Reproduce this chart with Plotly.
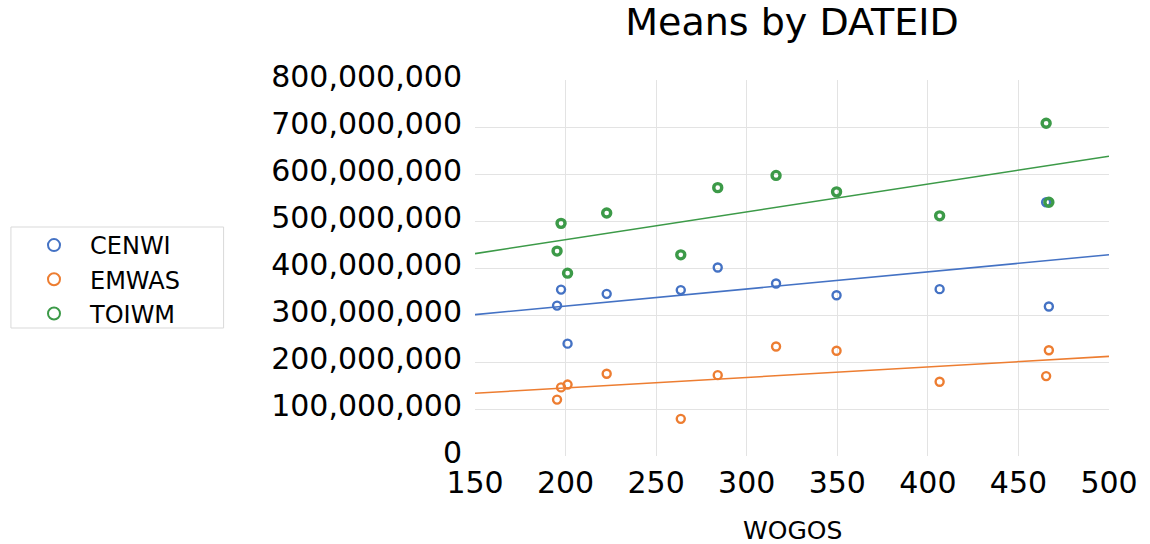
import numpy as np
import plotly.graph_objects as go

# WOGOS values shared by all three series
wogos = [195.3, 197.5, 201.1, 222.7, 263.6, 284.0, 316.2, 349.6, 406.5, 465.3, 466.8]

# Mean values by DATEID for each series
cenwi = [320e6, 354e6, 239e6, 345e6, 353e6, 401e6, 367e6, 342e6, 355e6, 540e6, 318e6]
emwas = [120e6, 146e6, 152e6, 175e6, 79e6, 172e6, 233e6, 224e6, 158e6, 170e6, 225e6]
toiwm = [436e6, 495e6, 389e6, 517e6, 428e6, 571e6, 597e6, 562e6, 511e6, 708e6, 540e6]

series_names = ["CENWI", "EMWAS", "TOIWM"]
series_values = [cenwi, emwas, toiwm]
colors = ["#4472C4", "#ED7D31", "#3C9A48"]
marker_widths = [2.4, 2.4, 3.4]

FONT = "DejaVu Sans"
x_range = [150, 500]

# plot area in pixels, used to place the legend frame
PLOT_L, PLOT_R, PLOT_T, PLOT_B = 475, 1113, 80, 456
W, H = 1150, 544


def px_to_paper_x(px):
    return (px - PLOT_L) / (PLOT_R - PLOT_L)


def px_to_paper_y(py):
    return (PLOT_B - py) / (PLOT_B - PLOT_T)


fig = go.Figure()

for name, vals, col, mw in zip(series_names, series_values, colors, marker_widths):
    fig.add_trace(go.Scatter(
        x=wogos, y=vals, mode="markers", name=name,
        marker=dict(symbol="circle-open", size=8, color=col, line=dict(width=mw, color=col)),
    ))

# Linear trendlines fitted to each series, drawn across the full x range
for name, vals, col in zip(series_names, series_values, colors):
    slope, intercept = np.polyfit(wogos, vals, 1)
    xs = np.array(x_range, dtype=float)
    fig.add_trace(go.Scatter(
        x=xs, y=slope * xs + intercept, mode="lines", showlegend=False,
        line=dict(color=col, width=1.6), hoverinfo="skip",
    ))

fig.update_layout(
    width=W, height=H,
    margin=dict(l=PLOT_L, r=W - PLOT_R, t=PLOT_T, b=H - PLOT_B),
    paper_bgcolor="white", plot_bgcolor="white",
    font=dict(family=FONT, color="#000000"),
    title=dict(text="Means by DATEID", x=0.5, xref="paper", y=1 - 22 / H, yref="container",
               yanchor="middle", xanchor="center", font=dict(size=38, family=FONT, color="#000")),
    legend=dict(
        x=18 / W, xref="container", y=1 - 223 / H, yref="container",
        xanchor="left", yanchor="top",
        borderwidth=0, bgcolor="rgba(255,255,255,0)",
        font=dict(size=24, family=FONT, color="#000"),
        itemsizing="constant", itemwidth=62, tracegroupgap=0,
    ),
    showlegend=True,
)

# frame around the legend
fig.add_shape(
    type="rect", xref="paper", yref="paper",
    x0=px_to_paper_x(8), x1=px_to_paper_x(222), y0=px_to_paper_y(328), y1=px_to_paper_y(227),
    line=dict(color="#D9D9D9", width=1), fillcolor="rgba(0,0,0,0)", layer="below",
)

fig.update_xaxes(
    range=x_range, dtick=50, tick0=150, showgrid=True, gridcolor="#E3E3E3", gridwidth=1,
    zeroline=False, showline=False, ticks="",
    tickfont=dict(size=30, family=FONT, color="#000"),
    ticklabelstandoff=6,
)
fig.update_yaxes(
    range=[0, 800e6], dtick=100e6, showgrid=True, gridcolor="#E3E3E3", gridwidth=1,
    zeroline=False, showline=False, ticks="", tickformat=",d",
    tickfont=dict(size=30, family=FONT, color="#000"),
    ticklabelstandoff=12, ticklabelshift=-4,
)

fig.add_annotation(
    text="WOGOS", x=0.5, xref="paper", y=px_to_paper_y(530), yref="paper",
    xanchor="center", yanchor="middle", showarrow=False,
    font=dict(size=25, family=FONT, color="#000"),
)

fig.write_html("out.html")
